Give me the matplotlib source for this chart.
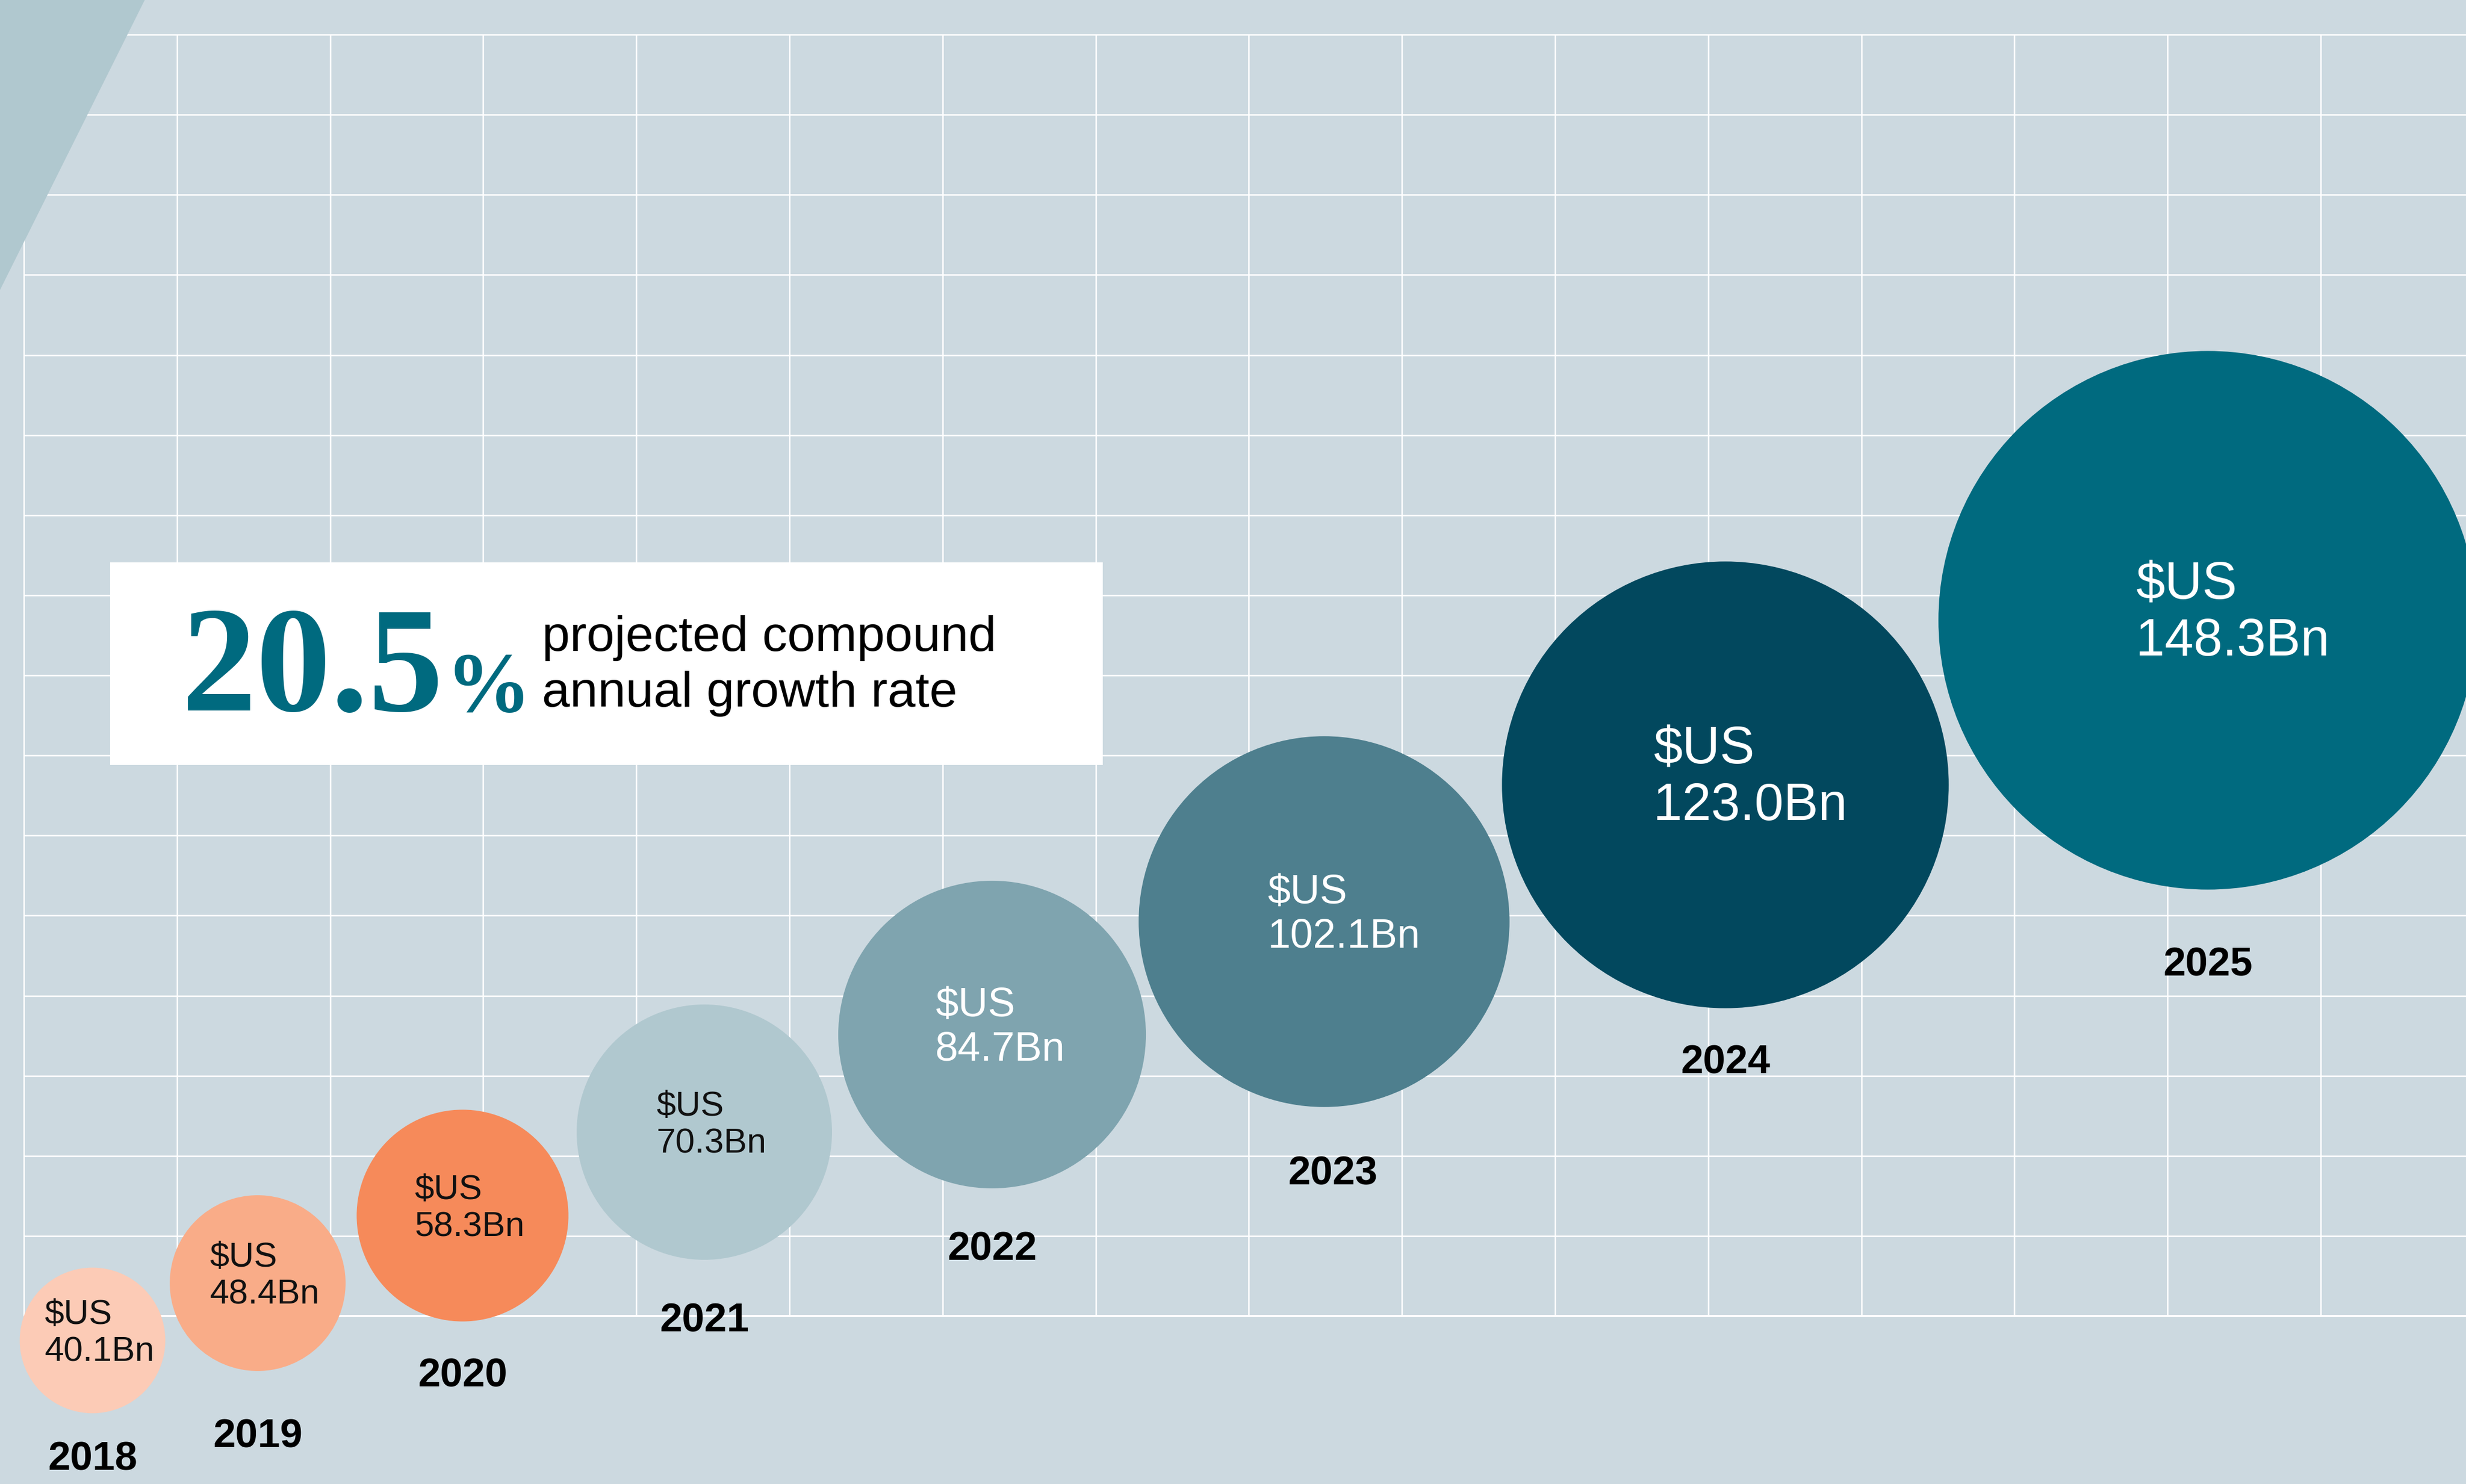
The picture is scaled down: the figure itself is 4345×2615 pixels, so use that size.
import matplotlib
matplotlib.use('Agg')
from matplotlib import pyplot as plt
from matplotlib.patches import Circle, Polygon, Rectangle

# data
years = ['2018', '2019', '2020', '2021', '2022', '2023', '2024', '2025']
market_bn = [40.1, 48.4, 58.3, 70.3, 84.7, 102.1, 123.0, 148.3]
cagr_pct = 20.5
cagr_text = ['projected compound', 'annual growth rate']

# layout (canvas pixels, y down)
W, H = 4345, 2615
px_per_bn = 3.2
bubble_x = [163, 454, 815, 1241, 1748, 2333, 3040, 3890]
bubble_y = [2362, 2261, 2142, 1995, 1823, 1624, 1383, 1093]
year_gap = [82, 117, 97, 109, 108, 119, 97, 134]
year_dx = [0, 0, 0, 0, 0, 15, 0, 0]
label_pt = [44, 44, 44, 44, 52, 52, 66, 66]
bubble_colors = ['#FCCBB6', '#F9AC88', '#F68A5A', '#B0C8CF',
                 '#7FA4AF', '#4E7F8E', '#02485E', '#006A7F']
label_colors = ['#111111'] * 4 + ['white'] * 4

bg = '#CCD9E0'
teal = '#006A7F'
sans = ['Liberation Sans', 'DejaVu Sans']
serif = ['Liberation Serif', 'DejaVu Serif']

fig = plt.figure(figsize=(W / 100, H / 100), dpi=100, facecolor=bg)
ax = fig.add_axes([0, 0, 1, 1])
ax.set_xlim(0, W)
ax.set_ylim(H, 0)
ax.axis('off')

# grid
grid_top, grid_bottom, grid_left = 61, 2319, 42
xs = [grid_left + 269.8 * k for k in range(16)]
ys = [grid_top + (grid_bottom - grid_top) / 16 * k for k in range(17)]
ax.vlines(xs, grid_top, grid_bottom, colors='white', linewidth=1.8, zorder=1)
ax.hlines(ys[:-1], grid_left, W, colors='white', linewidth=1.8, zorder=1)
ax.hlines(ys[-1], grid_left, W, colors='white', linewidth=2.8, zorder=1)

# corner triangle
ax.add_patch(Polygon([(0, 0), (255, 0), (0, 511)], closed=True,
                     facecolor='#B0C8CF', edgecolor='none', zorder=2))

# bubbles
for i, (yr, val) in enumerate(zip(years, market_bn)):
    r = val * px_per_bn
    cx, cy = bubble_x[i], bubble_y[i]
    ax.add_patch(Circle((cx, cy), r, facecolor=bubble_colors[i],
                        edgecolor='none', zorder=3))
    fpx = label_pt[i] * 100 / 72
    ax.text(cx - 1.38 * fpx, cy - 12, '$US\n{:.1f}Bn'.format(val),
            ha='left', va='center', fontsize=label_pt[i], family=sans,
            color=label_colors[i], linespacing=1.2, zorder=4)
    ax.text(cx + year_dx[i], cy + r + year_gap[i], yr, ha='center',
            va='center', fontsize=51, fontweight='bold', family=sans,
            color='black', zorder=4)

# CAGR callout
ax.add_patch(Rectangle((194, 991), 1749, 357, facecolor='white',
                       edgecolor='none', zorder=5))
ax.text(320, 1252, '{:.1f}'.format(cagr_pct), ha='left', va='baseline',
        fontsize=190, fontweight='bold', family=serif, color=teal, zorder=6)
ax.text(786, 1254, '%', ha='left', va='baseline', fontsize=108,
        fontweight='bold', family=serif, color=teal, zorder=6)
ax.text(955, 1147, cagr_text[0], ha='left', va='baseline', fontsize=63.5,
        family=sans, color='black', zorder=6)
ax.text(955, 1245, cagr_text[1], ha='left', va='baseline', fontsize=63.5,
        family=sans, color='black', zorder=6)

fig.savefig('out.png', dpi=100, facecolor=bg)
